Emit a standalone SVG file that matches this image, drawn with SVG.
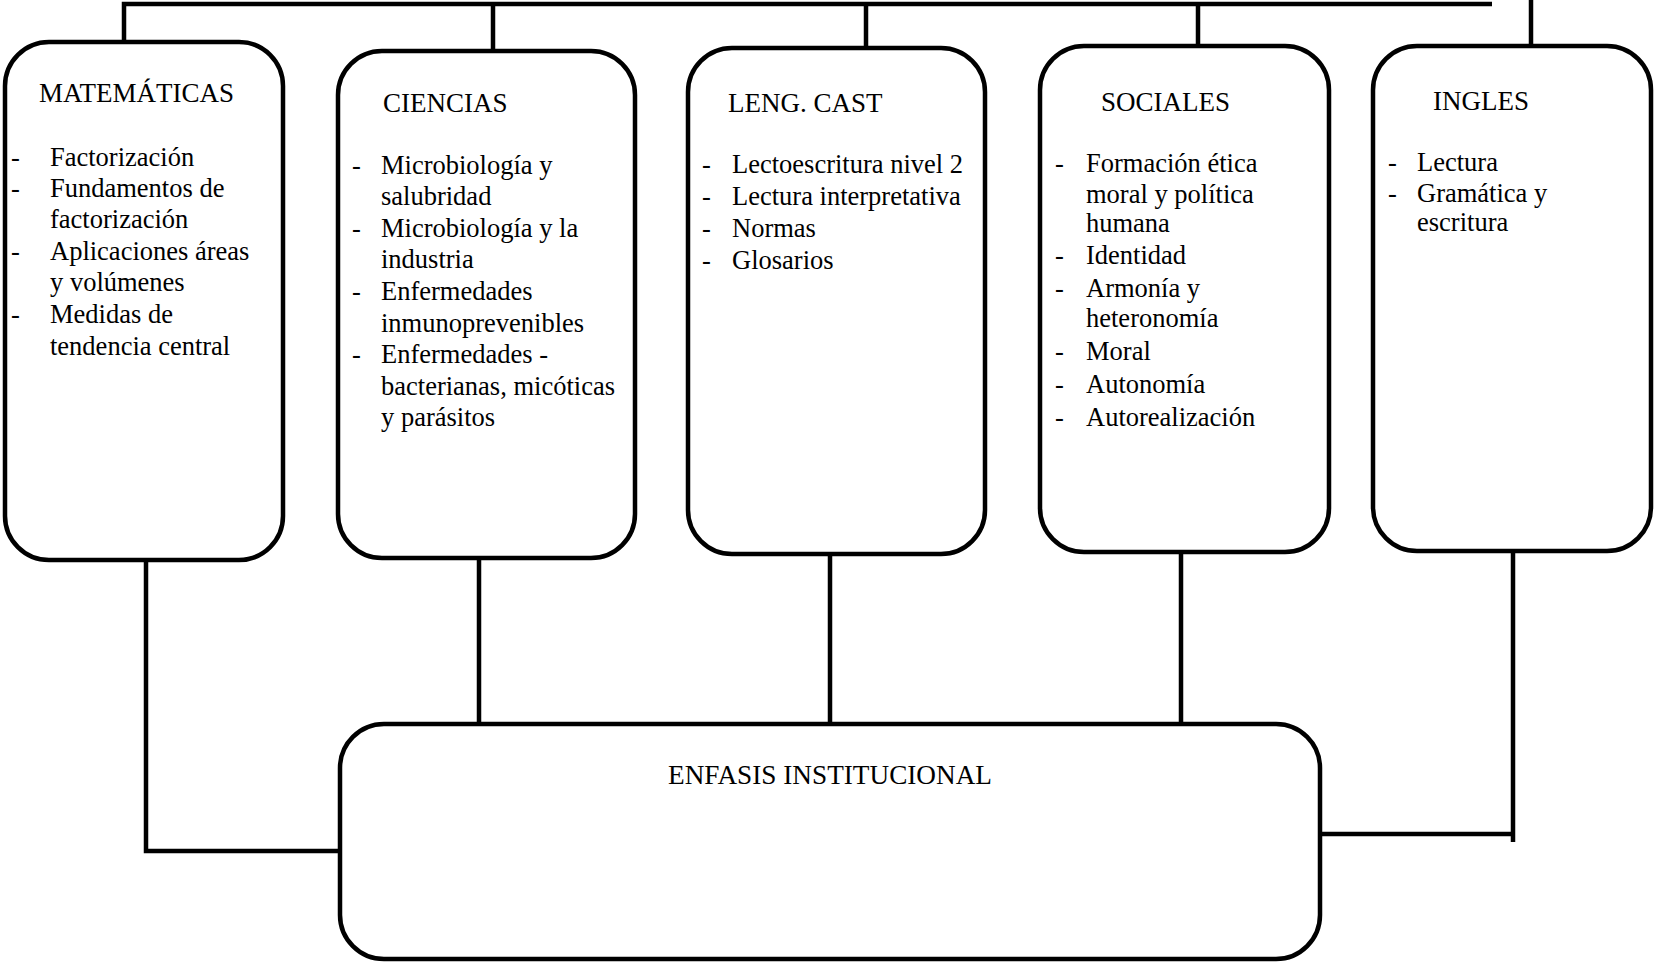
<svg xmlns="http://www.w3.org/2000/svg" width="1656" height="966" viewBox="0 0 1656 966">
<style>
.box{fill:#fff;stroke:#000;stroke-width:4.5}
.ln{fill:none;stroke:#000;stroke-width:4.5}
text{font-family:"Liberation Serif","Times New Roman",serif;font-size:26.5px;fill:#000}
.t{font-size:27px}
</style>
<rect width="1656" height="966" fill="#fff"/>
<g id="connectors">
<path class="ln" d="M124,58 V4 H1492"/>
<path class="ln" d="M493,51 V4"/>
<path class="ln" d="M866,48 V4"/>
<path class="ln" d="M1198,46 V4"/>
<path class="ln" d="M1531,46 V0"/>
<path class="ln" d="M146,560 V851 H340"/>
<path class="ln" d="M479,558 V725"/>
<path class="ln" d="M830,554 V723"/>
<path class="ln" d="M1181,552 V723"/>
<path class="ln" d="M1513,539 V842 M1320,834 H1513"/>
</g>
<g id="matematicas">
<rect class="box" x="5" y="42" width="278" height="518" rx="44"/>
<text class="t" x="39" y="102">MATEMÁTICAS</text>
<text x="11" y="166">-</text><text x="50" y="166">Factorización</text>
<text x="11" y="197">-</text><text x="50" y="197">Fundamentos de</text>
<text x="50" y="228">factorización</text>
<text x="11" y="260">-</text><text x="50" y="260">Aplicaciones áreas</text>
<text x="50" y="291">y volúmenes</text>
<text x="11" y="323">-</text><text x="50" y="323">Medidas de</text>
<text x="50" y="355">tendencia central</text>
</g>
<g id="ciencias">
<rect class="box" x="338" y="51" width="297" height="507" rx="44"/>
<text class="t" x="383" y="112">CIENCIAS</text>
<text x="352" y="174">-</text><text x="381" y="174">Microbiología y</text>
<text x="381" y="205">salubridad</text>
<text x="352" y="237">-</text><text x="381" y="237">Microbiología y la</text>
<text x="381" y="268">industria</text>
<text x="352" y="300">-</text><text x="381" y="300">Enfermedades</text>
<text x="381" y="332">inmunoprevenibles</text>
<text x="352" y="363">-</text><text x="381" y="363">Enfermedades -</text>
<text x="381" y="395">bacterianas, micóticas</text>
<text x="381" y="426">y parásitos</text>
</g>
<g id="lengcast">
<rect class="box" x="688" y="48" width="297" height="506" rx="44"/>
<text class="t" x="728" y="112">LENG. CAST</text>
<text x="702" y="173">-</text><text x="732" y="173">Lectoescritura nivel 2</text>
<text x="702" y="205">-</text><text x="732" y="205">Lectura interpretativa</text>
<text x="702" y="237">-</text><text x="732" y="237">Normas</text>
<text x="702" y="269">-</text><text x="732" y="269">Glosarios</text>
</g>
<g id="sociales">
<rect class="box" x="1040" y="46" width="289" height="506" rx="44"/>
<text class="t" x="1101" y="111">SOCIALES</text>
<text x="1055" y="172">-</text><text x="1086" y="172">Formación ética</text>
<text x="1086" y="203">moral y política</text>
<text x="1086" y="232">humana</text>
<text x="1055" y="264">-</text><text x="1086" y="264">Identidad</text>
<text x="1055" y="297">-</text><text x="1086" y="297">Armonía y</text>
<text x="1086" y="327">heteronomía</text>
<text x="1055" y="360">-</text><text x="1086" y="360">Moral</text>
<text x="1055" y="393">-</text><text x="1086" y="393">Autonomía</text>
<text x="1055" y="426">-</text><text x="1086" y="426">Autorealización</text>
</g>
<g id="ingles">
<rect class="box" x="1373" y="46" width="278" height="505" rx="44"/>
<text class="t" x="1433" y="110">INGLES</text>
<text x="1388" y="171">-</text><text x="1417" y="171">Lectura</text>
<text x="1388" y="202">-</text><text x="1417" y="202">Gramática y</text>
<text x="1417" y="231">escritura</text>
</g>
<g id="enfasis">
<rect class="box" x="340" y="724" width="980" height="235" rx="44"/>
<text x="668" y="784" textLength="324" lengthAdjust="spacingAndGlyphs">ENFASIS INSTITUCIONAL</text>
</g>
</svg>
